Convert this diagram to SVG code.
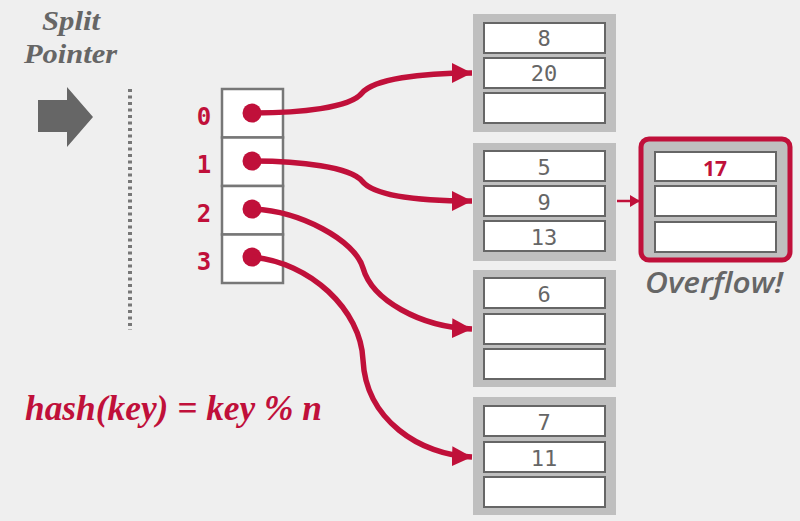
<svg xmlns="http://www.w3.org/2000/svg" width="800" height="521" viewBox="0 0 800 521">
  <style>
    .bucket { fill: #bfbfbf; }
    .slot { fill: #ffffff; stroke: #666666; stroke-width: 2; }
    .val { font-family: "DejaVu Sans Mono", "Liberation Mono", monospace; font-size: 22px; fill: #666666; text-anchor: middle; }
    .idx { font-family: "DejaVu Sans Mono", "Liberation Mono", monospace; font-size: 24px; font-weight: bold; fill: #c0103a; text-anchor: middle; }
    .dir { fill: #ffffff; stroke: #777777; stroke-width: 2.5; }
    .dot { fill: #c0103a; }
    .link { fill: none; stroke: #c0103a; stroke-width: 5.5; }
    .thin { fill: none; stroke: #c0103a; stroke-width: 2.5; }
    .serif { font-family: "Liberation Serif", "DejaVu Serif", serif; font-style: italic; font-weight: bold; }
  </style>
  <defs>
    <marker id="head" viewBox="0 0 20 20" refX="20" refY="10" markerWidth="20" markerHeight="20" markerUnits="userSpaceOnUse" orient="auto">
      <path d="M0,0 L20,10 L0,20 Z" fill="#c0103a"/>
    </marker>
    <marker id="head-small" viewBox="0 0 10 12" refX="10" refY="6" markerWidth="10" markerHeight="12" markerUnits="userSpaceOnUse" orient="auto">
      <path d="M0,0 L10,6 L0,12 Z" fill="#c0103a"/>
    </marker>
  </defs>

  <rect x="0" y="0" width="800" height="521" fill="#efefef"/>

  <!-- split pointer legend -->
  <g id="split-pointer">
    <text class="serif" x="42" y="30" font-size="28" fill="#666666" textLength="58" lengthAdjust="spacingAndGlyphs">Split</text>
    <text class="serif" x="24" y="63" font-size="28" fill="#666666" textLength="93" lengthAdjust="spacingAndGlyphs">Pointer</text>
    <path d="M38,100 H67 V87 L93,117 L67,147 V132 H38 Z" fill="#666666"/>
    <line x1="130" y1="89" x2="130" y2="330" stroke="#777777" stroke-width="4" stroke-dasharray="3,3.5"/>
  </g>

  <!-- directory of slot pointers -->
  <g id="directory">
    <rect class="dir" x="222" y="89" width="61" height="48.5"/>
    <rect class="dir" x="222" y="137.5" width="61" height="48.5"/>
    <rect class="dir" x="222" y="186" width="61" height="48.5"/>
    <rect class="dir" x="222" y="234.5" width="61" height="48.5"/>
    <text class="idx" x="204" y="125">0</text>
    <text class="idx" x="204" y="173">1</text>
    <text class="idx" x="204" y="222">2</text>
    <text class="idx" x="204" y="270">3</text>
    <circle class="dot" cx="252" cy="113" r="9.5"/>
    <circle class="dot" cx="252" cy="161" r="9.5"/>
    <circle class="dot" cx="252" cy="209" r="9.5"/>
    <circle class="dot" cx="252" cy="257" r="9.5"/>
  </g>

  <!-- bucket 0 -->
  <g id="bucket-0">
    <rect class="bucket" x="473" y="14" width="143" height="118"/>
    <rect class="slot" x="484" y="23" width="121" height="30"/>
    <rect class="slot" x="484" y="58" width="121" height="30"/>
    <rect class="slot" x="484" y="93" width="121" height="30"/>
    <text class="val" x="544" y="46">8</text>
    <text class="val" x="544" y="81">20</text>
  </g>

  <!-- bucket 1 -->
  <g id="bucket-1">
    <rect class="bucket" x="473" y="143" width="143" height="118"/>
    <rect class="slot" x="484" y="151" width="121" height="30"/>
    <rect class="slot" x="484" y="186" width="121" height="30"/>
    <rect class="slot" x="484" y="221" width="121" height="30"/>
    <text class="val" x="544" y="175">5</text>
    <text class="val" x="544" y="210">9</text>
    <text class="val" x="544" y="245">13</text>
  </g>

  <!-- bucket 2 -->
  <g id="bucket-2">
    <rect class="bucket" x="473" y="270" width="143" height="117"/>
    <rect class="slot" x="484" y="278" width="121" height="30"/>
    <rect class="slot" x="484" y="314" width="121" height="30"/>
    <rect class="slot" x="484" y="349" width="121" height="30"/>
    <text class="val" x="544" y="302">6</text>
  </g>

  <!-- bucket 3 -->
  <g id="bucket-3">
    <rect class="bucket" x="473" y="397" width="143" height="118"/>
    <rect class="slot" x="484" y="406" width="121" height="30"/>
    <rect class="slot" x="484" y="442" width="121" height="30"/>
    <rect class="slot" x="484" y="477" width="121" height="30"/>
    <text class="val" x="544" y="430">7</text>
    <text class="val" x="544" y="466">11</text>
  </g>

  <!-- overflow page chained to bucket 1 -->
  <g id="overflow">
    <rect x="641" y="139" width="149" height="121" rx="8" fill="#bfbfbf" stroke="#c0103a" stroke-width="5"/>
    <rect class="slot" x="655" y="152" width="121" height="29"/>
    <rect class="slot" x="655" y="186" width="121" height="30"/>
    <rect class="slot" x="655" y="222" width="121" height="30"/>
    <text x="715" y="176" font-family="'Open Sans', 'DejaVu Sans', sans-serif" font-size="21" font-weight="bold" fill="#c0103a" text-anchor="middle">17</text>
    <text x="645" y="293" font-family="'Open Sans', 'DejaVu Sans', sans-serif" font-size="29" font-style="italic" font-weight="600" fill="#666666" textLength="138" lengthAdjust="spacingAndGlyphs">Overflow!</text>
  </g>

  <!-- hash function -->
  <g id="hash-function">
    <text class="serif" x="25" y="420" font-size="36" fill="#c0103a" textLength="297" lengthAdjust="spacingAndGlyphs">hash(key) = key % n</text>
  </g>

  <!-- pointers from directory slots to buckets -->
  <g id="connectors">
    <path class="link" marker-end="url(#head)" d="M252,113 C300,113 350,108 362,93 C374,79 420,73 472,73"/>
    <path class="link" marker-end="url(#head)" d="M252,161 C300,161 350,167 362,181 C374,196 420,201 472,201"/>
    <path class="link" marker-end="url(#head)" d="M252,209 C300,211 355,240 363,268 C372,300 420,327 472,329"/>
    <path class="link" marker-end="url(#head)" d="M252,257 C310,262 361,310 363,360 C366,420 420,455 472,457"/>
    <path class="thin" marker-end="url(#head-small)" d="M617,201 H640"/>
  </g>
</svg>
